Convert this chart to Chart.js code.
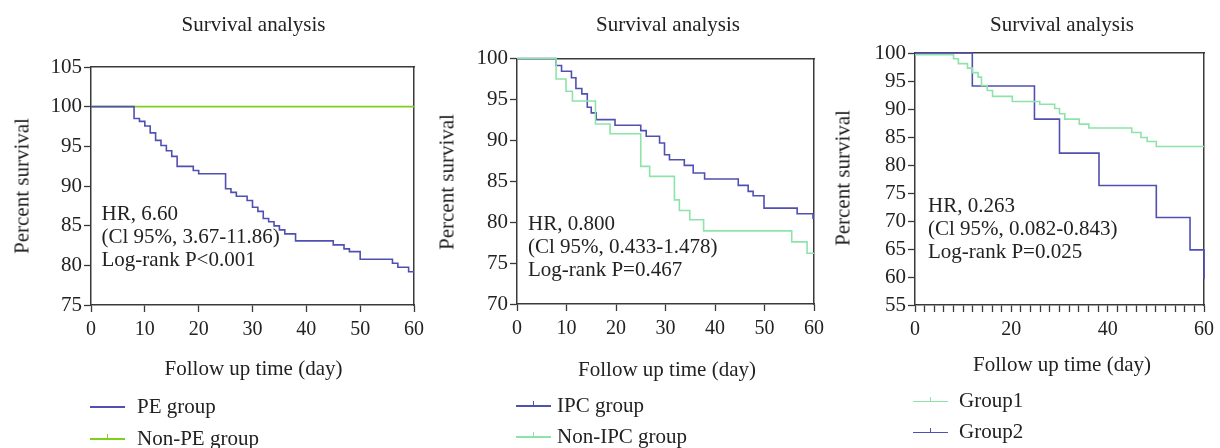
<!DOCTYPE html>
<html>
<head>
<meta charset="utf-8">
<script src="https://cdn.jsdelivr.net/npm/chart.js@4"></script>
<style>
  html, body { margin: 0; padding: 0; background: #fff; }
  body { width: 1220px; height: 448px; position: relative; overflow: hidden; }
  canvas { position: absolute; top: 0; }
  .t { position: absolute; font-family: 'Liberation Serif', serif; font-size: 21px; line-height: 21px; color: #222; white-space: nowrap; }
  .ann { position: absolute; font-family: 'Liberation Serif', serif; font-size: 21px; line-height: 23.3px; color: #222; white-space: nowrap; }
  .lg { position: absolute; height: 21px; }
  .lg .ln { position: absolute; left: 0; top: 9.75px; width: 35px; height: 1.5px; }
  .lg .tk { position: absolute; left: 17px; top: -4px; width: 1.3px; height: 4px; }
  .lg .tx { position: absolute; top: -1px; font-family: 'Liberation Serif', serif; font-size: 21px; line-height: 21px; color: #222; white-space: nowrap; }
</style>
</head>
<body>
<canvas id="c1" width="430" height="448" style="left:0px"></canvas>
<canvas id="c2" width="400" height="448" style="left:430px"></canvas>
<canvas id="c3" width="390" height="448" style="left:830px"></canvas>
<script>
// ---------- data ----------
const chartTitle = 'Survival analysis';
const xAxisTitle = 'Follow up time (day)';
const yAxisTitle = 'Percent survival';

// Panel 1
const p1Labels = ['PE group', 'Non-PE group'];
const peDays = [0, 8, 9, 10, 11, 12, 13, 14, 15, 16, 19, 20, 25, 26, 27, 29, 30, 31, 32, 33, 34, 35, 36, 38, 45, 47, 48, 50, 56, 57, 59, 60];
const peSurv = [100, 98.5, 98.15, 97.56, 96.7, 95.75, 95.1, 94.44, 93.73, 92.47, 91.96, 91.54, 89.65, 89.2, 88.7, 88.17, 87.33, 86.8, 85.9, 85.5, 84.97, 84.47, 83.96, 83.08, 82.58, 82.07, 81.73, 80.77, 80.26, 79.76, 79.2, 79.2];
const nonPeDays = [0, 60];
const nonPeSurv = [100, 100];
const p1Annot = ['HR, 6.60', '(Cl 95%, 3.67-11.86)', 'Log-rank P<0.001'];
const p1YRange = [75, 105];
const p1XTickStep = 10;

// Panel 2
const p2Labels = ['IPC group', 'Non-IPC group'];
const ipcDays = [0, 7.9, 9, 11, 11.9, 13.1, 14.2, 15, 16, 19.8, 25, 26.1, 28.8, 29.8, 30.8, 33.8, 35.6, 37.9, 44.7, 46.7, 47.7, 49.9, 56.6, 59.8, 60];
const ipcSurv = [100, 99.14, 98.45, 97.64, 96.33, 95.68, 94.04, 93.35, 92.53, 91.84, 91.19, 90.49, 89.67, 88.24, 87.63, 86.94, 86.0, 85.27, 84.49, 83.76, 83.22, 81.71, 81.02, 80.49, 80.49];
const nonIpcDays = [0, 7.9, 9.9, 11.2, 15.85, 18.8, 25, 26.8, 31.8, 32.8, 34.9, 37.7, 55.5, 58.6, 60];
const nonIpcSurv = [100, 97.5, 96.0, 94.8, 92.0, 90.8, 86.82, 85.59, 82.73, 81.43, 80.29, 78.94, 77.59, 76.2, 76.2];
const p2Annot = ['HR, 0.800', '(Cl 95%, 0.433-1.478)', 'Log-rank P=0.467'];
const p2YRange = [70, 100];
const p2XTickStep = 10;

// Panel 3
const p3Labels = ['Group1', 'Group2'];
const g1Days = [0, 8, 9, 10.9, 11.9, 13.1, 13.8, 15, 16.1, 20.2, 25.9, 29, 30, 31.1, 34.1, 36.1, 45, 46.9, 48.2, 50.1, 60];
const g1Surv = [99.7, 98.98, 98.1, 97.3, 96.5, 95.7, 94.2, 93.3, 92.25, 91.35, 90.85, 90.1, 89.15, 88.2, 87.3, 86.6, 85.8, 84.9, 84.2, 83.3, 83.3];
const g2Days = [0, 11.9, 24.8, 30, 38.2, 50.1, 57.1, 60];
const g2Surv = [100, 94.1, 88.2, 82.12, 76.34, 70.62, 64.84, 59.6];
const p3Annot = ['HR, 0.263', '(Cl 95%, 0.082-0.843)', 'Log-rank P=0.025'];
const p3YRange = [55, 100];
const p3XTickStep = 2;
const p3XLabelEvery = 20;

const xRange = [0, 60];
const yTickStep = 5;

// ---------- styles ----------
const BLUE = '#5050b2';
const LIME = '#7fcf1f';
const MINT = '#8ee3ab';
const AXIS = '#3a3a3a';
const FONT = 'Liberation Serif';

Chart.defaults.font.family = FONT;
Chart.defaults.color = '#222';

function pts(xs, ys) { return xs.map((x, i) => ({ x: x, y: ys[i] })); }

function ds(label, xs, ys, color, tick) {
  return {
    label: label, data: pts(xs, ys), borderColor: color, backgroundColor: color,
    borderWidth: 1.6, stepped: 'before', pointRadius: 0, fill: false, clip: 4,
    legendTick: tick
  };
}

function makeChart(id, datasets, box, yRange, xStep, xLabelEvery) {
  // box: widths of axes areas (left, top, right, bottom) inside the canvas
  return new Chart(document.getElementById(id), {
    type: 'line',
    data: { datasets: datasets },
    options: {
      responsive: false, animation: false,
      layout: { padding: 0 },
      plugins: { legend: { display: false }, title: { display: false }, tooltip: { enabled: false } },
      scales: {
        x: {
          type: 'linear', position: 'bottom', min: xRange[0], max: xRange[1],
          border: { display: true, color: AXIS, width: 1.5 },
          grid: { display: true, drawOnChartArea: false, drawTicks: true, tickLength: 7, tickColor: AXIS, tickWidth: 1.3 },
          ticks: {
            stepSize: xStep, autoSkip: false, maxRotation: 0, padding: 6,
            font: { size: 20, family: FONT }, color: '#222',
            callback: v => (xLabelEvery ? (v % xLabelEvery === 0 ? String(v) : '') : String(v))
          },
          afterFit: s => { s.height = box[3]; }
        },
        x2: {
          type: 'linear', position: 'top', min: 0, max: 1,
          border: { display: true, color: AXIS, width: 1.5 },
          grid: { display: false }, ticks: { display: false },
          afterFit: s => { s.height = box[1]; }
        },
        y: {
          type: 'linear', position: 'left', min: yRange[0], max: yRange[1],
          border: { display: true, color: AXIS, width: 1.5 },
          grid: { display: true, drawOnChartArea: false, drawTicks: true, tickLength: 7, tickColor: AXIS, tickWidth: 1.3 },
          ticks: { stepSize: yTickStep, autoSkip: false, padding: 2, font: { size: 21, family: FONT }, color: '#222' },
          afterFit: s => { s.width = box[0]; }
        },
        y2: {
          type: 'linear', position: 'right', min: 0, max: 1,
          border: { display: true, color: AXIS, width: 1.5 },
          grid: { display: false }, ticks: { display: false },
          afterFit: s => { s.width = box[2]; }
        }
      }
    }
  });
}

function addText(cls, text, left, top, transform) {
  const d = document.createElement('div');
  d.className = cls;
  d.textContent = text;
  d.style.left = left + 'px';
  d.style.top = top + 'px';
  if (transform) d.style.transform = transform;
  document.body.appendChild(d);
  return d;
}

function addAnnot(lines, left, top) {
  const d = document.createElement('div');
  d.className = 'ann';
  d.style.left = left + 'px';
  d.style.top = top + 'px';
  lines.forEach(l => { const s = document.createElement('div'); s.textContent = l; d.appendChild(s); });
  document.body.appendChild(d);
}

function addLegend(chart, order, left, ys, textOffset) {
  order.forEach((idx, k) => {
    const dset = chart.data.datasets[idx];
    const row = document.createElement('div');
    row.className = 'lg';
    row.style.left = left + 'px';
    row.style.top = (ys[k] - 10.5) + 'px';
    const ln = document.createElement('div');
    ln.className = 'ln'; ln.style.background = dset.borderColor;
    if (dset.legendTick) {
      const tk = document.createElement('div');
      tk.className = 'tk'; tk.style.background = dset.borderColor;
      ln.appendChild(tk);
    }
    row.appendChild(ln);
    const tx = document.createElement('div');
    tx.className = 'tx'; tx.style.left = textOffset + 'px';
    tx.textContent = dset.label;
    row.appendChild(tx);
    document.body.appendChild(row);
  });
}

// ---------- charts ----------
const c1 = makeChart('c1', [
  ds(p1Labels[0], peDays, peSurv, BLUE, false),
  ds(p1Labels[1], nonPeDays, nonPeSurv, LIME, true)
], [91, 67, 14, 143], p1YRange, p1XTickStep, null);

const c2 = makeChart('c2', [
  ds(p2Labels[1], nonIpcDays, nonIpcSurv, MINT, true),
  ds(p2Labels[0], ipcDays, ipcSurv, BLUE, true)
], [87, 58.5, 11, 144], p2YRange, p2XTickStep, null);

const c3 = makeChart('c3', [
  ds(p3Labels[0], g1Days, g1Surv, MINT, true),
  ds(p3Labels[1], g2Days, g2Surv, BLUE, true)
], [85, 53, 11, 143], p3YRange, p3XTickStep, p3XLabelEvery);

// ---------- texts ----------
const centers = [253.5, 668, 1062];
centers.forEach(cx => addText('t', chartTitle, cx, 13.5, 'translateX(-50%)'));

addText('t', xAxisTitle, 253.5, 358, 'translateX(-50%)');
addText('t', xAxisTitle, 667, 359, 'translateX(-50%)');
addText('t', xAxisTitle, 1062, 354, 'translateX(-50%)');

addText('t', yAxisTitle, 22, 186, 'translate(-50%,-50%) rotate(-90deg)');
addText('t', yAxisTitle, 447, 181.5, 'translate(-50%,-50%) rotate(-90deg)');
addText('t', yAxisTitle, 843, 178, 'translate(-50%,-50%) rotate(-90deg)');

addAnnot(p1Annot, 101.5, 201.5);
addAnnot(p2Annot, 528, 211.5);
addAnnot(p3Annot, 928, 193.5);

addLegend(c1, [0, 1], 90, [407, 439], 47);
addLegend(c2, [1, 0], 516, [406, 437], 41);
addLegend(c3, [0, 1], 913, [401.5, 432.5], 46);
</script>
</body>
</html>
